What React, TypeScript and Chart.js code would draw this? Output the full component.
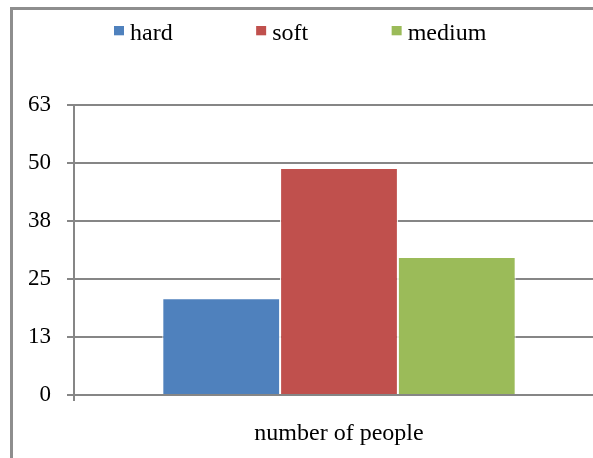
import React, { useEffect, useRef } from "react";
import { Chart, registerables } from "chart.js";

Chart.register(...registerables);

const categories = ["number of people"];
const seriesNames = ["hard", "soft", "medium"];
const hardValues = [21];
const softValues = [49.3];
const mediumValues = [30];
const seriesColors = ["#4F81BD", "#C0504D", "#9BBB59"];
const yTickValues = [0, 12.6, 25.2, 37.8, 50.4, 63];
const yTickLabels = ["0", "13", "25", "38", "50", "63"];

const FONT = "'Liberation Serif', 'Times New Roman', serif";
const GRID = "#868686";

const legendPlugin = {
  id: "customLegend",
  afterDraw(chart: any) {
    const ctx = chart.ctx;
    ctx.save();
    ctx.font = `24px ${FONT}`;
    ctx.textBaseline = "alphabetic";
    ctx.textAlign = "left";
    let x = 114;
    const boxSize = 10;
    const boxTop = 26;
    const baseline = 39.5;
    chart.data.datasets.forEach((ds: any) => {
      ctx.fillStyle = ds.backgroundColor;
      ctx.fillRect(x, boxTop, boxSize, boxSize - 0.7);
      ctx.fillStyle = "#000";
      const tx = x + boxSize + 6;
      ctx.fillText(ds.label, tx, baseline);
      x = tx + ctx.measureText(ds.label).width + 83.5;
    });
    ctx.restore();
  },
};

export default function App() {
  const ref = useRef<HTMLCanvasElement>(null);

  useEffect(() => {
    if (!ref.current) return;
    const valueSets = [hardValues, softValues, mediumValues];
    const chart = new Chart(ref.current, {
      type: "bar",
      data: {
        labels: categories,
        datasets: seriesNames.map((name, i) => ({
          label: name,
          data: valueSets[i],
          backgroundColor: seriesColors[i],
          borderColor: "#ffffff",
          borderWidth: 1,
          categoryPercentage: 0.6667,
          barPercentage: 1,
        })),
      },
      options: {
        responsive: false,
        animation: false,
        layout: { padding: { top: 105, right: 6, left: 0, bottom: 0 } },
        plugins: {
          legend: { display: false },
          tooltip: { enabled: false },
        },
        scales: {
          x: {
            afterFit(scale: any) {
              scale.height = 63;
            },
            grid: {
              drawOnChartArea: false,
              drawTicks: true,
              tickLength: 6,
              color: GRID,
              lineWidth: 2,
            },
            border: { display: true, color: GRID, width: 2 },
            ticks: {
              color: "#000",
              padding: 18,
              font: { family: FONT, size: 24 },
            },
          },
          y: {
            min: 0,
            max: 63,
            afterFit(scale: any) {
              scale.width = 74;
            },
            afterBuildTicks(scale: any) {
              scale.ticks = yTickValues.map((v) => ({ value: v }));
            },
            grid: {
              color: GRID,
              lineWidth: 2,
              drawTicks: true,
              tickLength: 7,
            },
            border: { display: true, color: GRID, width: 2 },
            ticks: {
              color: "#000",
              padding: 16,
              font: { family: FONT, size: 23 },
              callback: (_v: any, idx: number) => yTickLabels[idx],
            },
          },
        },
      },
      plugins: [legendPlugin],
    });
    return () => chart.destroy();
  }, []);

  return (
    <div
      style={{
        position: "absolute",
        left: 0,
        top: 0,
        width: 593,
        height: 458,
        overflow: "hidden",
        background: "#fff",
      }}
    >
      <div
        style={{
          position: "absolute",
          left: 10,
          top: 7,
          width: 700,
          height: 600,
          border: "3px solid #8e8e8e",
          boxSizing: "border-box",
        }}
      />
      <canvas
        ref={ref}
        width={610}
        height={458}
        style={{ position: "absolute", left: 0, top: 0, display: "block" }}
      />
    </div>
  );
}
